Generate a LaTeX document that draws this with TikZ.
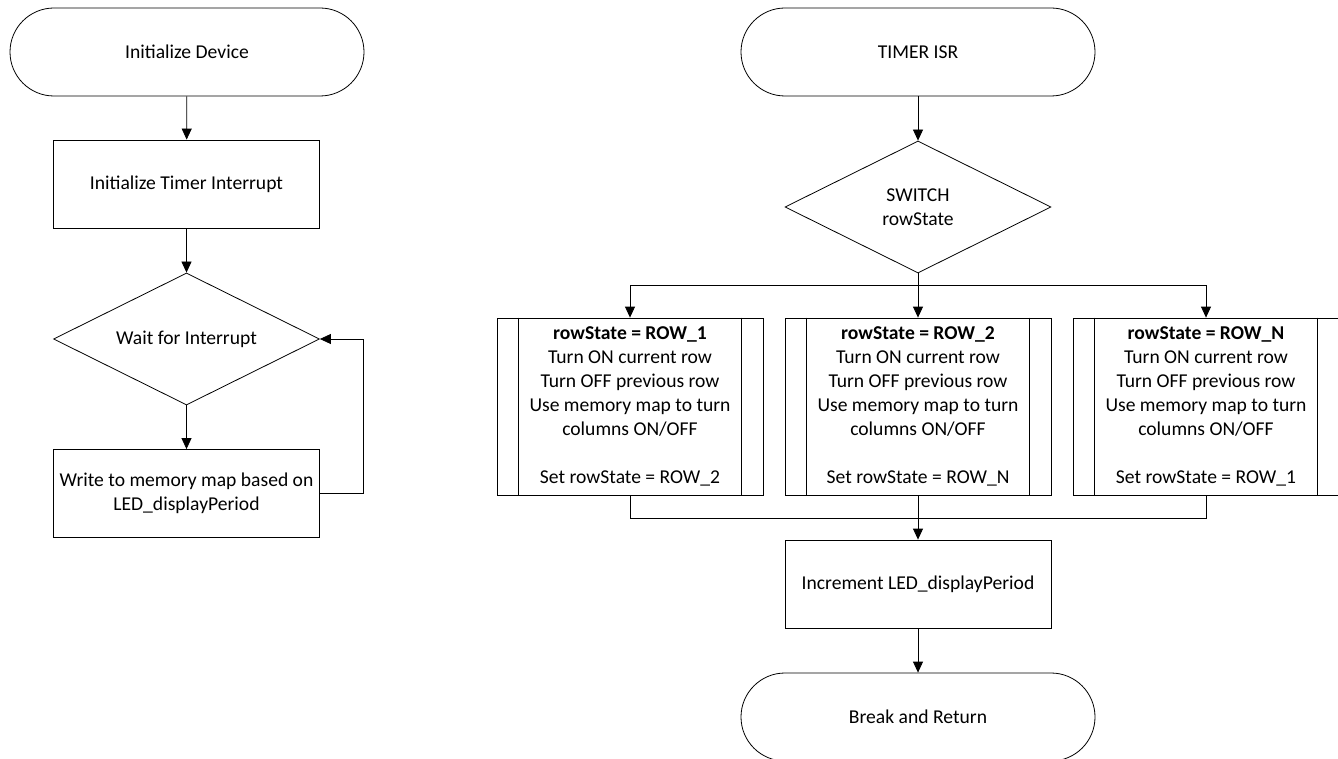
\documentclass[tikz,border=0pt]{standalone}
\usepackage{fontspec}
\setmainfont{Carlito}
\usetikzlibrary{shapes.geometric,arrows.meta}

\begin{document}
\begin{tikzpicture}[x=1pt,y=-1pt,line width=0.8pt,
  every node/.style={font=\fontsize{19.6}{24}\selectfont,align=center},
  term/.style={draw,rectangle,rounded corners=44pt,minimum width=354pt,minimum height=88pt},
  proc/.style={draw,rectangle,minimum width=266pt,minimum height=88pt},
  decide/.style={draw,diamond,aspect=2,minimum width=266pt,minimum height=132pt,inner sep=0pt},
  subproc/.style={draw,rectangle,minimum width=266pt,minimum height=177pt,inner sep=0pt},
  arr/.style={-{Triangle[length=11pt,width=10pt]}}]
\useasboundingbox[fill=white] (0,0) rectangle (1338,759);
% main loop
\node[term] (init) at (187,52) {Initialize Device};
\node[proc] (timer) at (186.5,184) {Initialize Timer Interrupt};
\node[decide] (wait) at (186.5,339) {Wait for Interrupt};
\node[proc] (write) at (186.5,493.5) {Write to memory map based on\\LED\_displayPeriod};
\draw[arr] (init) -- (timer);
\draw[arr] (timer) -- (wait);
\draw[arr] (wait) -- (write);
\draw[arr] (write.east) -- ++(43,0) |- (wait.east);
% timer isr
\node[term] (isr) at (918,52) {TIMER ISR};
\node[decide] (switch) at (918,207) {SWITCH\\rowState};
\node[subproc] (row1) at (630,406.5) {\textbf{rowState = ROW\_1}\\Turn ON current row\\Turn OFF previous row\\Use memory map to turn\\columns ON/OFF\\[24pt]Set rowState = ROW\_2};
\node[subproc] (row2) at (918,406.5) {\textbf{rowState = ROW\_2}\\Turn ON current row\\Turn OFF previous row\\Use memory map to turn\\columns ON/OFF\\[24pt]Set rowState = ROW\_N};
\node[subproc] (rowN) at (1206,406.5) {\textbf{rowState = ROW\_N}\\Turn ON current row\\Turn OFF previous row\\Use memory map to turn\\columns ON/OFF\\[24pt]Set rowState = ROW\_1};
\foreach \r in {row1,row2,rowN}{
  \draw ([xshift=22pt]\r.north west) -- ([xshift=22pt]\r.south west);
  \draw ([xshift=-22pt]\r.north east) -- ([xshift=-22pt]\r.south east);
}
\node[proc] (incr) at (918,584) {Increment LED\_displayPeriod};
\node[term] (ret) at (918,717) {Break and Return};
\coordinate (split) at (918,285);
\coordinate (join) at (918,518);
\draw[arr] (isr) -- (switch);
\draw (switch.south) -- (split);
\draw[arr] (split) -| (row1.north);
\draw[arr] (split) -- (row2.north);
\draw[arr] (split) -| (rowN.north);
\draw (row1.south) |- (join);
\draw (rowN.south) |- (join);
\draw[arr] (row2.south) -- (incr.north);
\draw[arr] (incr) -- (ret);
\end{tikzpicture}
\end{document}
